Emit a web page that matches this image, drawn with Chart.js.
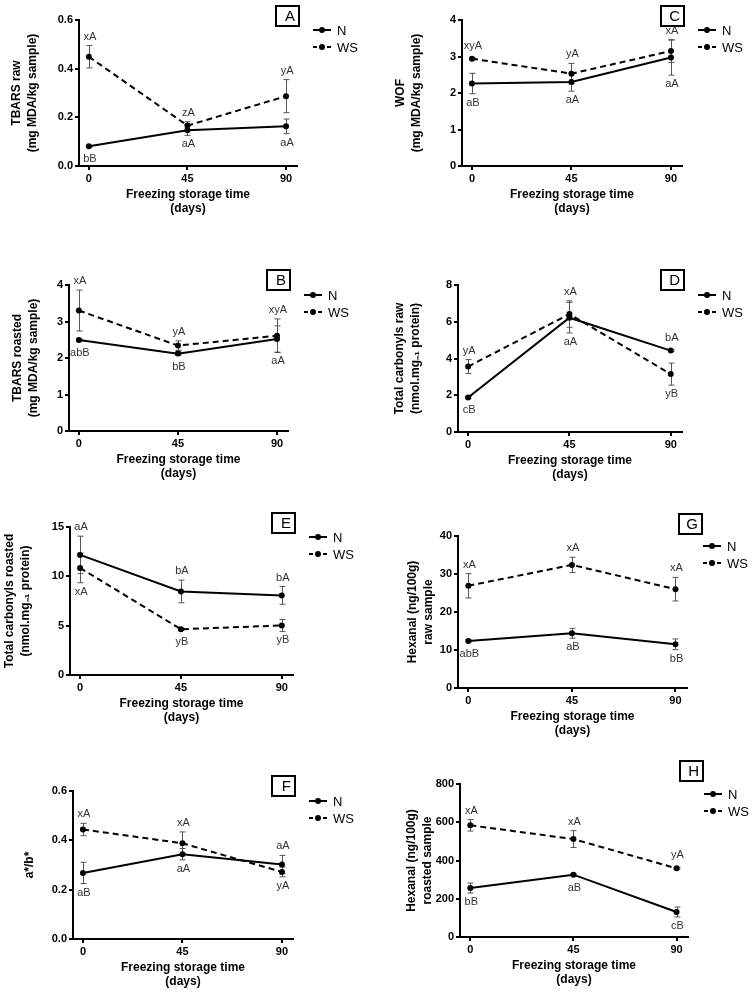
<!DOCTYPE html>
<html>
<head>
<meta charset="utf-8">
<script src="https://cdn.jsdelivr.net/npm/chart.js@4/dist/chart.umd.min.js"></script>
<style>
  html, body { margin: 0; padding: 0; background: #fff; }
  #wrap { position: relative; width: 754px; height: 992px; overflow: hidden; }
  canvas { position: absolute; }
</style>
</head>
<body>
<div id="wrap"></div>
<script>
const days = [0, 45, 90];
const seriesNames = ['N', 'WS'];

// A - TBARS raw
const tbarsRawN = [0.081, 0.147, 0.163];
const tbarsRawNErr = [0.003, 0.021, 0.03];
const tbarsRawWS = [0.449, 0.166, 0.287];
const tbarsRawWSErr = [0.046, 0.016, 0.068];
const tbarsRawTicks = [0, 0.2, 0.4, 0.6];
const tbarsRawLabN = ['bB', 'aA', 'aA'];
const tbarsRawLabWS = ['xA', 'zA', 'yA'];

// C - WOF
const wofN = [2.26, 2.30, 2.97];
const wofNErr = [0.28, 0.25, 0.48];
const wofWS = [2.94, 2.53, 3.15];
const wofWSErr = [0.03, 0.28, 0.31];
const wofTicks = [0, 1, 2, 3, 4];
const wofLabN = ['aB', 'aA', 'aA'];
const wofLabWS = ['xyA', 'yA', 'xA'];

// B - TBARS roasted
const tbarsRoastN = [2.49, 2.12, 2.52];
const tbarsRoastNErr = [0.03, 0.05, 0.36];
const tbarsRoastWS = [3.30, 2.34, 2.61];
const tbarsRoastWSErr = [0.56, 0.13, 0.46];
const tbarsRoastTicks = [0, 1, 2, 3, 4];
const tbarsRoastLabN = ['abB', 'bB', 'aA'];
const tbarsRoastLabWS = ['xA', 'yA', 'xyA'];

// D - total carbonyls raw
const carbRawN = [1.88, 6.22, 4.43];
const carbRawNErr = [0.05, 0.83, 0.05];
const carbRawWS = [3.56, 6.42, 3.15];
const carbRawWSErr = [0.38, 0.72, 0.6];
const carbRawTicks = [0, 2, 4, 6, 8];
const carbRawLabN = ['cB', 'aA', 'bA'];
const carbRawLabWS = ['yA', 'xA', 'yB'];

// E - total carbonyls roasted
const carbRoastN = [12.17, 8.47, 8.07];
const carbRoastNErr = [1.9, 1.15, 0.9];
const carbRoastWS = [10.85, 4.64, 5.02];
const carbRoastWSErr = [1.5, 0.1, 0.6];
const carbRoastTicks = [0, 5, 10, 15];
const carbRoastLabN = ['aA', 'bA', 'bA'];
const carbRoastLabWS = ['xA', 'yB', 'yB'];

// G - hexanal raw
const hexRawN = [12.4, 14.4, 11.5];
const hexRawNErr = [0.3, 1.3, 1.4];
const hexRawWS = [26.9, 32.4, 26.0];
const hexRawWSErr = [3.2, 2.0, 3.1];
const hexRawTicks = [0, 10, 20, 30, 40];
const hexRawLabN = ['abB', 'aB', 'bB'];
const hexRawLabWS = ['xA', 'xA', 'xA'];

// F - a*/b*
const abN = [0.268, 0.344, 0.302];
const abNErr = [0.043, 0.023, 0.037];
const abWS = [0.444, 0.388, 0.272];
const abWSErr = [0.025, 0.046, 0.02];
const abTicks = [0, 0.2, 0.4, 0.6];
const abLabN = ['aB', 'aA', 'aA'];
const abLabWS = ['xA', 'xA', 'yA'];

// H - hexanal roasted
const hexRoastN = [256, 326, 131];
const hexRoastNErr = [26, 4, 26];
const hexRoastWS = [584, 512, 359];
const hexRoastWSErr = [30, 44, 5];
const hexRoastTicks = [0, 200, 400, 600, 800];
const hexRoastLabN = ['bB', 'aB', 'cB'];
const hexRoastLabWS = ['xA', 'xA', 'yA'];

const FONT = "'Liberation Sans', Arial, sans-serif";
const XTITLE = ['Freezing storage time', '(days)'];
const XH = 50;

// u = label above the point, d = below
const panels = [
  { letter: 'A', canvas: [0, 0, 377, 235], area: [79, 20, 297, 166], titleX: 17, box: [2, -15],
    title: ['TBARS raw', '(mg MDA/kg sample)'], ticks: tbarsRawTicks, dec: 1,
    n: tbarsRawN, nErr: tbarsRawNErr, ws: tbarsRawWS, wsErr: tbarsRawWSErr,
    labN: tbarsRawLabN, labWS: tbarsRawLabWS, posN: 'ddd', posWS: 'uuu' },
  { letter: 'C', canvas: [377, 0, 377, 235], area: [462, 20, 682, 166], titleX: 401, box: [2, -15],
    title: ['WOF', '(mg MDA/kg sample)'], ticks: wofTicks, dec: 0,
    n: wofN, nErr: wofNErr, ws: wofWS, wsErr: wofWSErr,
    labN: wofLabN, labWS: wofLabWS, posN: 'ddd', posWS: 'uuu' },
  { letter: 'B', canvas: [0, 235, 377, 250], area: [69, 285, 288, 431], titleX: 18, box: [2, -16],
    title: ['TBARS roasted', '(mg MDA/kg sample)'], ticks: tbarsRoastTicks, dec: 0,
    n: tbarsRoastN, nErr: tbarsRoastNErr, ws: tbarsRoastWS, wsErr: tbarsRoastWSErr,
    labN: tbarsRoastLabN, labWS: tbarsRoastLabWS, posN: 'ddd', posWS: 'uuu' },
  { letter: 'D', canvas: [377, 235, 377, 250], area: [458, 285, 682, 432], titleX: 400, box: [2, -16],
    title: ['Total carbonyls raw', '(nmol.mg\u208B\u2081 protein)'], ticks: carbRawTicks, dec: 0,
    n: carbRawN, nErr: carbRawNErr, ws: carbRawWS, wsErr: carbRawWSErr,
    labN: carbRawLabN, labWS: carbRawLabWS, posN: 'ddu', posWS: 'uud' },
  { letter: 'E', canvas: [0, 485, 377, 260], area: [70, 527, 293, 675], titleX: 10, box: [2, -15],
    title: ['Total carbonyls roasted', '(nmol.mg\u208B\u2081 protein)'], ticks: carbRoastTicks, dec: 0,
    n: carbRoastN, nErr: carbRoastNErr, ws: carbRoastWS, wsErr: carbRoastWSErr,
    labN: carbRoastLabN, labWS: carbRoastLabWS, posN: 'uuu', posWS: 'ddd' },
  { letter: 'G', canvas: [377, 485, 377, 260], area: [458, 536, 687, 688], titleX: 413, box: [15, -23],
    title: ['Hexanal (ng/100g)', 'raw sample'], ticks: hexRawTicks, dec: 0,
    n: hexRawN, nErr: hexRawNErr, ws: hexRawWS, wsErr: hexRawWSErr,
    labN: hexRawLabN, labWS: hexRawLabWS, posN: 'ddd', posWS: 'uuu' },
  { letter: 'F', canvas: [0, 745, 377, 247], area: [73, 791, 293, 939], titleX: 30, box: [2, -16],
    title: 'a*/b*', ticks: abTicks, dec: 1,
    n: abN, nErr: abNErr, ws: abWS, wsErr: abWSErr,
    labN: abLabN, labWS: abLabWS, posN: 'ddu', posWS: 'uud' },
  { letter: 'H', canvas: [377, 745, 377, 247], area: [460, 784, 688, 937], titleX: 412, box: [15, -24],
    title: ['Hexanal (ng/100g)', 'roasted sample'], ticks: hexRoastTicks, dec: 0,
    n: hexRoastN, nErr: hexRoastNErr, ws: hexRoastWS, wsErr: hexRoastWSErr,
    labN: hexRoastLabN, labWS: hexRoastLabWS, posN: 'ddd', posWS: 'uuu' },
];

function extras(p) {
  return {
    id: 'extras',
    beforeDatasetsDraw(chart) {
      const ctx = chart.ctx, xs = chart.scales.x, ys = chart.scales.y;
      ctx.save();
      ctx.strokeStyle = '#555';
      ctx.lineWidth = 1;
      [[p.n, p.nErr], [p.ws, p.wsErr]].forEach(([vals, errs]) => {
        vals.forEach((v, i) => {
          const x = Math.round(xs.getPixelForValue(days[i])) + 0.5;
          const y1 = ys.getPixelForValue(v + errs[i]);
          const y2 = ys.getPixelForValue(v - errs[i]);
          ctx.beginPath();
          ctx.moveTo(x, y1); ctx.lineTo(x, y2);
          ctx.moveTo(x - 3, y1); ctx.lineTo(x + 3, y1);
          ctx.moveTo(x - 3, y2); ctx.lineTo(x + 3, y2);
          ctx.stroke();
        });
      });
      ctx.restore();
    },
    afterDraw(chart) {
      const ctx = chart.ctx, xs = chart.scales.x, ys = chart.scales.y;
      const ca = chart.chartArea;
      ctx.save();
      // significance letters
      ctx.fillStyle = '#333';
      ctx.font = '11px ' + FONT;
      ctx.textAlign = 'center';
      ctx.textBaseline = 'middle';
      [[p.n, p.nErr, p.labN, p.posN], [p.ws, p.wsErr, p.labWS, p.posWS]].forEach(([vals, errs, labs, pos]) => {
        vals.forEach((v, i) => {
          const x = xs.getPixelForValue(days[i]) + 1;
          const py = ys.getPixelForValue(v);
          let y;
          if (pos[i] === 'u') y = Math.min(ys.getPixelForValue(v + errs[i]), py - 4) - 9;
          else y = Math.max(ys.getPixelForValue(v - errs[i]), py + 4) + 9;
          ctx.fillText(labs[i], x, y);
        });
      });
      // panel letter box
      const bx = ca.right + p.box[0] - 24, by = ca.top + p.box[1];
      ctx.strokeStyle = '#000';
      ctx.lineWidth = 2;
      ctx.strokeRect(bx + 1, by + 1, 23, 20);
      ctx.fillStyle = '#000';
      ctx.font = '15px ' + FONT;
      ctx.textAlign = 'right';
      ctx.fillText(p.letter, bx + 20, by + 12);
      // legend
      ctx.font = '13px ' + FONT;
      ctx.textAlign = 'left';
      seriesNames.forEach((name, k) => {
        const ly = ca.top + 10 + k * 17;
        const lx = ca.right + 16;
        ctx.lineWidth = 2;
        ctx.setLineDash(k === 1 ? [4, 3] : []);
        ctx.beginPath();
        ctx.moveTo(lx, ly); ctx.lineTo(lx + 18, ly);
        ctx.stroke();
        ctx.setLineDash([]);
        ctx.beginPath();
        ctx.arc(lx + 9, ly, 3, 0, Math.PI * 2);
        ctx.fill();
        ctx.fillText(name, ca.right + 40, ly + 1);
      });
      ctx.restore();
    }
  };
}

const wrap = document.getElementById('wrap');

panels.forEach(p => {
  const [cx, cy, cw, ch] = p.canvas;
  const [l, t, r, b] = p.area;
  const cv = document.createElement('canvas');
  cv.width = cw; cv.height = ch;
  cv.style.left = cx + 'px'; cv.style.top = cy + 'px';
  cv.style.width = cw + 'px'; cv.style.height = ch + 'px';
  wrap.appendChild(cv);

  const single = !Array.isArray(p.title);
  const ds = (vals, dash) => ({
    data: days.map((d, i) => ({ x: d, y: vals[i] })),
    borderColor: '#000',
    backgroundColor: '#000',
    borderWidth: 2,
    borderDash: dash,
    pointRadius: 3,
    pointBorderWidth: 0,
    pointBackgroundColor: '#000',
    tension: 0,
    clip: false
  });

  new Chart(cv, {
    type: 'line',
    data: { datasets: [ds(p.n, []), ds(p.ws, [6, 4])] },
    options: {
      responsive: false,
      animation: false,
      devicePixelRatio: 1,
      layout: { padding: { left: 0, top: t - cy, right: cx + cw - r, bottom: cy + ch - b - XH } },
      plugins: { legend: { display: false }, tooltip: { enabled: false } },
      scales: {
        x: {
          type: 'linear', min: -4.5, max: 95,
          afterBuildTicks: s => { s.ticks = days.map(v => ({ value: v })); },
          afterFit: s => { s.height = XH; },
          grid: { drawOnChartArea: false, color: '#000', lineWidth: 2, tickLength: 4 },
          border: { color: '#000', width: 2 },
          ticks: { color: '#000', padding: 2, font: { family: FONT, size: 11, weight: 'bold' } },
          title: { display: true, text: XTITLE, color: '#000', padding: 0,
                   font: { family: FONT, size: 12, weight: 'bold', lineHeight: 1.2 } }
        },
        y: {
          min: 0, max: p.ticks[p.ticks.length - 1],
          afterBuildTicks: s => { s.ticks = p.ticks.map(v => ({ value: v })); },
          afterFit: s => { s.width = l - cx; },
          grid: { drawOnChartArea: false, color: '#000', lineWidth: 2, tickLength: 4 },
          border: { color: '#000', width: 2 },
          ticks: { color: '#000', padding: 2, font: { family: FONT, size: 11, weight: 'bold' },
                   callback: v => v.toFixed(p.dec) },
          title: { display: true, text: p.title, color: '#000',
                   padding: { top: p.titleX - cx - 8, bottom: 0 },
                   font: { family: FONT, size: 12, weight: 'bold', lineHeight: 1.33 } }
        }
      }
    },
    plugins: [extras(p)]
  });
});
</script>
</body>
</html>
